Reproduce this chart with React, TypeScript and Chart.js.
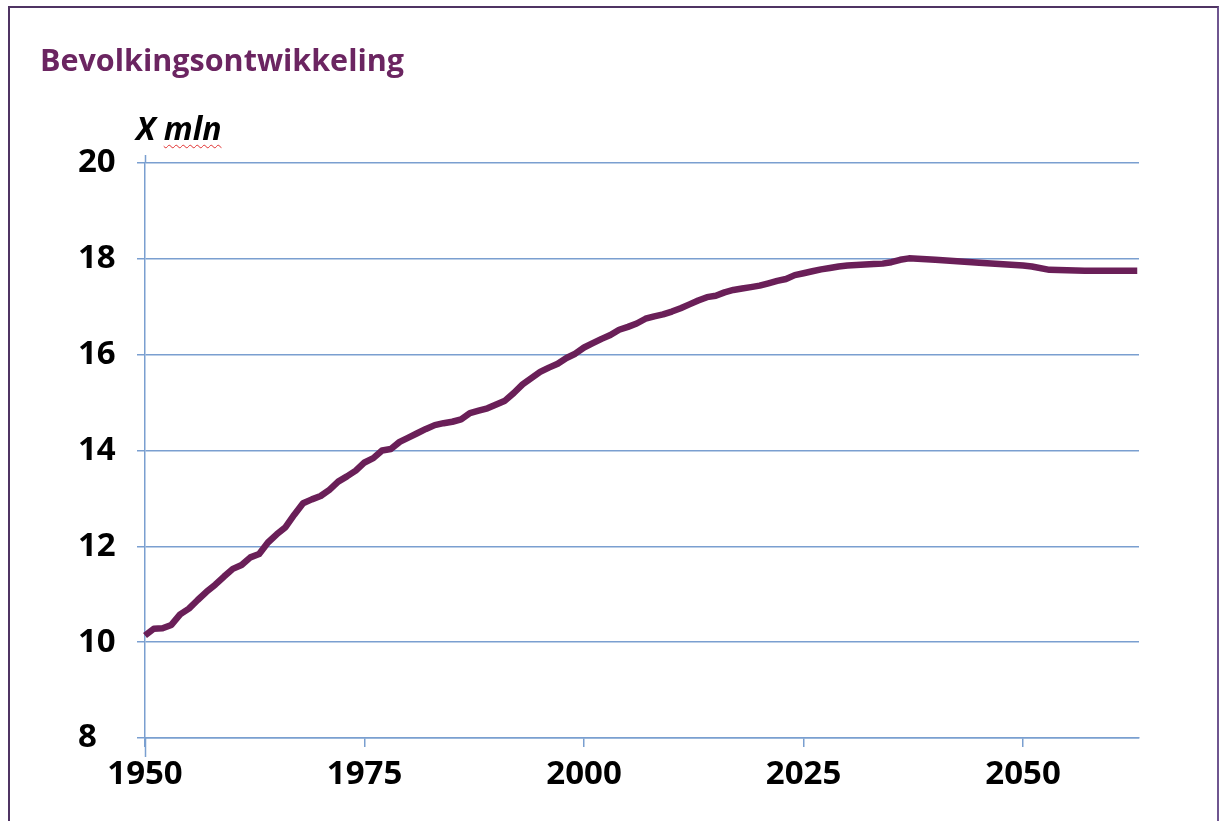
import React, { useEffect, useRef } from 'react';
import { Chart, registerables } from 'chart.js';

Chart.register(...registerables);

const chartTitle = 'Bevolkingsontwikkeling';
const unitPrefix = 'X';
const unitWord = 'mln';

const years = [
  1950, 1951, 1952, 1953, 1954, 1955, 1956, 1957, 1958, 1959,
  1960, 1961, 1962, 1963, 1964, 1965, 1966, 1967, 1968, 1969,
  1970, 1971, 1972, 1973, 1974, 1975, 1976, 1977, 1978, 1979,
  1980, 1981, 1982, 1983, 1984, 1985, 1986, 1987, 1988, 1989,
  1990, 1991, 1992, 1993, 1994, 1995, 1996, 1997, 1998, 1999,
  2000, 2001, 2002, 2003, 2004, 2005, 2006, 2007, 2008, 2009,
  2010, 2011, 2012, 2013, 2014, 2015, 2016, 2017, 2018, 2019,
  2020, 2021, 2022, 2023, 2024, 2025, 2026, 2027, 2028, 2029,
  2030, 2031, 2032, 2033, 2034, 2035, 2036, 2037,
  2040, 2045, 2050, 2051, 2053, 2057, 2063,
];

const population = [
  10.14, 10.28, 10.29, 10.36, 10.58, 10.70, 10.88, 11.05, 11.20, 11.37,
  11.53, 11.61, 11.77, 11.84, 12.08, 12.25, 12.40, 12.66, 12.90, 12.98,
  13.05, 13.18, 13.35, 13.46, 13.58, 13.75, 13.84, 14.00, 14.03, 14.18,
  14.27, 14.36, 14.45, 14.53, 14.57, 14.60, 14.65, 14.78, 14.83, 14.88,
  14.96, 15.04, 15.20, 15.38, 15.51, 15.64, 15.73, 15.81, 15.93, 16.02,
  16.15, 16.24, 16.33, 16.41, 16.52, 16.58, 16.65, 16.75, 16.80, 16.84,
  16.90, 16.97, 17.05, 17.13, 17.20, 17.23, 17.30, 17.35, 17.38, 17.41,
  17.44, 17.49, 17.54, 17.58, 17.66, 17.70, 17.74, 17.78, 17.81, 17.84,
  17.86, 17.87, 17.88, 17.89, 17.90, 17.93, 17.98, 18.01,
  17.98, 17.92, 17.86, 17.84, 17.77, 17.75, 17.75,
];

const xTickYears = [1950, 1975, 2000, 2025, 2050];
const yTickValues = [8, 10, 12, 14, 16, 18, 20];

const GRID = '#7a9fd0';
const LINE = '#6a1f58';

const axisExtension = {
  id: 'axisExtension',
  afterDraw(chart: any) {
    const { ctx, chartArea } = chart;
    const x = Math.round(chart.scales.x.getPixelForValue(1950)) + 0.5;
    ctx.save();
    ctx.strokeStyle = GRID;
    ctx.lineWidth = 1.5;
    ctx.beginPath();
    ctx.moveTo(x, chartArea.top - 8);
    ctx.lineTo(x, chartArea.top);
    ctx.moveTo(x, chartArea.bottom);
    ctx.lineTo(x, chartArea.bottom + 19);
    ctx.stroke();
    ctx.restore();
  },
};

export default function App() {
  const canvasRef = useRef<HTMLCanvasElement | null>(null);

  useEffect(() => {
    if (!canvasRef.current) return;
    const chart = new Chart(canvasRef.current, {
      type: 'line',
      data: {
        datasets: [
          {
            data: years.map((y, i) => ({ x: y, y: population[i] })),
            borderColor: LINE,
            borderWidth: 6.5,
            pointRadius: 0,
            tension: 0,
            borderJoinStyle: 'round',
            borderCapStyle: 'butt',
            clip: false as any,
          },
        ],
      },
      options: {
        animation: false,
        responsive: false,
        devicePixelRatio: 1,
        layout: { padding: { left: 78, right: 80, top: 163, bottom: 23 } },
        plugins: {
          legend: { display: false },
          tooltip: { enabled: false },
          title: { display: false },
        },
        scales: {
          x: {
            type: 'linear',
            min: 1950,
            max: 2063.2,
            afterBuildTicks: (scale: any) => {
              scale.ticks = xTickYears.map((v) => ({ value: v }));
            },
            afterFit: (scale: any) => {
              scale.height = 60;
            },
            ticks: {
              callback: (v: any) => String(v),
              color: '#000000',
              font: { family: 'Open Sans', weight: 'bold', size: 33 },
              padding: 8,
              maxRotation: 0,
              autoSkip: false,
            },
            grid: {
              display: true,
              drawOnChartArea: false,
              drawTicks: true,
              tickLength: 9,
              color: GRID,
              lineWidth: 1.5,
            },
            border: { display: true, color: GRID, width: 1.5 },
          },
          y: {
            type: 'linear',
            min: 8,
            max: 20,
            afterBuildTicks: (scale: any) => {
              scale.ticks = yTickValues.map((v) => ({ value: v }));
            },
            afterFit: (scale: any) => {
              scale.width = 67;
            },
            ticks: {
              color: '#000000',
              font: { family: 'Open Sans', weight: 'bold', size: 33 },
              crossAlign: 'far',
              padding: 10,
            },
            grid: {
              display: true,
              drawTicks: true,
              tickLength: 8,
              color: GRID,
              lineWidth: 1.5,
            },
            border: { display: true, color: GRID, width: 1.5 },
          },
        },
      },
      plugins: [axisExtension],
    } as any);
    return () => chart.destroy();
  }, []);

  return (
    <div
      style={{
        position: 'absolute',
        left: 0,
        top: 0,
        width: 1219,
        height: 821,
        overflow: 'hidden',
        background: '#ffffff',
      }}
    >
      <div
        style={{
          position: 'absolute',
          left: 8,
          top: 6,
          width: 1211,
          height: 815,
          boxSizing: 'border-box',
          borderLeft: '2px solid #4f3463',
          borderTop: '2px solid #4f3463',
          borderRight: '2px solid #6f5690',
        }}
      />
      <canvas
        ref={canvasRef}
        width={1219}
        height={821}
        style={{ position: 'absolute', left: 0, top: 0, width: 1219, height: 821 }}
      />
      <div
        style={{
          position: 'absolute',
          left: 40,
          top: 44,
          fontFamily: '"Open Sans", sans-serif',
          fontWeight: 700,
          fontSize: 30.5,
          lineHeight: '30px',
          color: '#6b2561',
          whiteSpace: 'nowrap',
        }}
      >
        {chartTitle}
      </div>
      <div
        style={{
          position: 'absolute',
          left: 136,
          top: 113,
          fontFamily: '"Open Sans", sans-serif',
          fontWeight: 700,
          fontStyle: 'italic',
          fontSize: 32,
          lineHeight: '30px',
          color: '#000000',
          whiteSpace: 'nowrap',
        }}
      >
        {unitPrefix}{' '}
        <span
          style={{
            textDecorationLine: 'underline',
            textDecorationStyle: 'wavy',
            textDecorationColor: '#e03030',
            textDecorationThickness: '1px',
            textUnderlineOffset: '4px',
          }}
        >
          {unitWord}
        </span>
      </div>
    </div>
  );
}
